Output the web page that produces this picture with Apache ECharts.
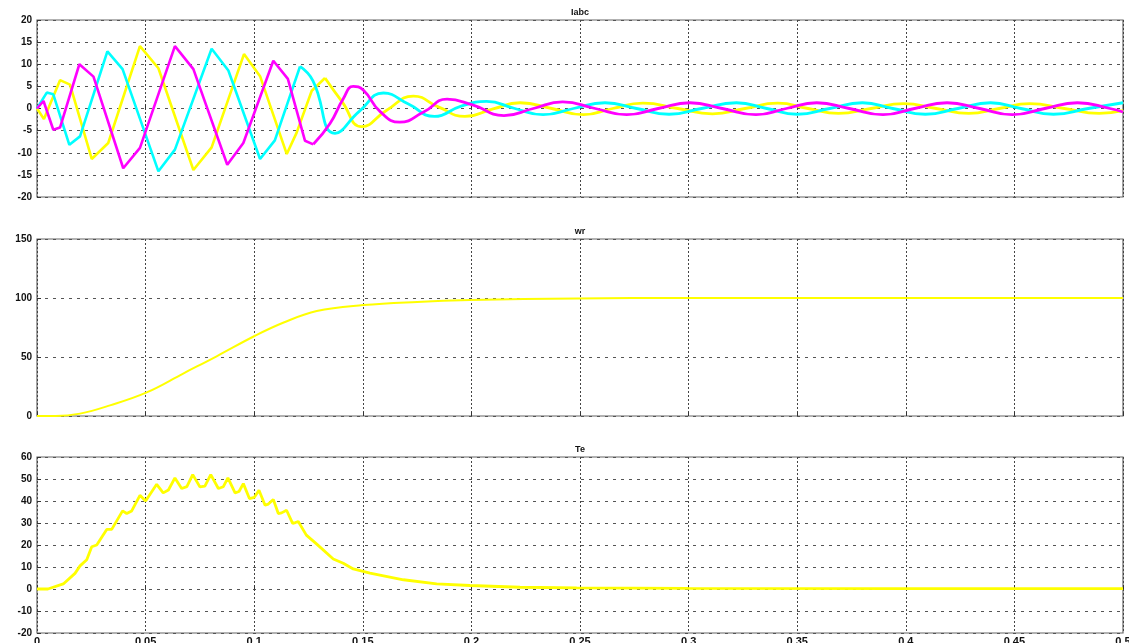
<!DOCTYPE html>
<html>
<head>
<meta charset="utf-8" />
<title>Iabc / wr / Te</title>
<script src="https://cdn.jsdelivr.net/npm/echarts/dist/echarts.min.js"></script>
<style>
  html, body { margin: 0; padding: 0; background: #fff; }
  #chart { width: 1129px; height: 643px; }
</style>
</head>
<body>
<div id="chart"></div>
<script>
// 时间轴刻度
const xTicks = [0, 0.05, 0.1, 0.15, 0.2, 0.25, 0.3, 0.35, 0.4, 0.45, 0.5];
const panelTitles = ["Iabc", "wr", "Te"];

// Iabc — 前段为折线（采样较粗），后段为平滑正弦
const iaLinear = [[0,0],[0.0032,-2.4],[0.0106,6.4],[0.0152,5.4],[0.0252,-11.4],[0.0328,-7.8],[0.0474,14.1],[0.0559,9.1],[0.072,-13.9],[0.0804,-8.8],[0.0953,12.3],[0.1027,7.3],[0.115,-10.3],[0.1195,-5.5],[0.1265,4.0],[0.1326,6.9]];
const iaSmooth = [[0.1326,6.9],[0.1405,1.5],[0.1495,-4.1],[0.161,-0.4],[0.1733,2.8],[0.185,0.3],[0.197,-1.8],[0.21,-0.1],[0.2224,1.3],[0.237,0],[0.2515,-1.4],[0.265,0],[0.279,1.2],[0.295,0],[0.311,-1.2],[0.326,0],[0.341,1.2],[0.355,0],[0.369,-1.1],[0.384,0],[0.399,1.1],[0.414,0],[0.429,-1.1],[0.443,0],[0.457,1.1],[0.473,0],[0.489,-1.1],[0.5,-0.5]];

const ibLinear = [[0,0],[0.0045,3.6],[0.0075,3.2],[0.0149,-8.2],[0.0198,-6.3],[0.0324,12.9],[0.0394,8.9],[0.0559,-14.2],[0.0635,-9.3],[0.0804,13.5],[0.0881,8.6],[0.1027,-11.4],[0.1095,-7.2],[0.1211,9.5]];
const ibSmooth = [[0.1211,9.5],[0.127,6.3],[0.1372,-5.6],[0.1485,-0.6],[0.1595,3.5],[0.171,1.0],[0.183,-1.8],[0.195,0.5],[0.207,1.6],[0.22,0],[0.233,-1.4],[0.247,0],[0.2615,1.3],[0.276,0],[0.291,-1.3],[0.306,0],[0.322,1.3],[0.336,0],[0.35,-1.3],[0.365,0],[0.38,1.3],[0.394,0],[0.409,-1.3],[0.424,0],[0.439,1.3],[0.453,0],[0.468,-1.3],[0.484,0],[0.5,1.3]];

const icLinear = [[0,0],[0.003,1.7],[0.0075,-4.8],[0.0106,-4.3],[0.0195,10.0],[0.026,7.2],[0.0397,-13.5],[0.0474,-8.9],[0.0635,14.1],[0.072,8.9],[0.0876,-12.7],[0.095,-7.8],[0.1088,10.8],[0.1155,6.7],[0.1234,-7.3],[0.1272,-8.1]];
const icSmooth = [[0.1272,-8.1],[0.1349,-3.4],[0.141,2.2],[0.1456,5.0],[0.1502,4.2],[0.158,-0.7],[0.167,-3.1],[0.178,-0.8],[0.1888,2.1],[0.2005,0.8],[0.215,-1.6],[0.2285,0],[0.242,1.5],[0.257,0],[0.2715,-1.4],[0.286,0],[0.3006,1.3],[0.3155,0],[0.331,-1.4],[0.345,0],[0.359,1.3],[0.374,0],[0.3895,-1.4],[0.404,0],[0.419,1.3],[0.434,0],[0.449,-1.4],[0.464,0],[0.479,1.3],[0.494,0],[0.5,-0.8]];

// wr 转速
const wrData = [[0,0],[0.0085,0],[0.0198,2],[0.0336,9],[0.0505,20],[0.0673,36],[0.0827,50.6],[0.1004,68],[0.1133,79],[0.1288,89],[0.1502,94],[0.175,96.7],[0.1993,98.2],[0.2486,99.6],[0.299,100],[0.4,100],[0.5,100]];

// Te 电磁转矩
const teData = [[0,0],[0.005,0],[0.0121,2.3],[0.0175,7.1],[0.0198,10.5],[0.0205,11.4],[0.0229,13.3],[0.0252,19.2],[0.0275,20],[0.0321,27.1],[0.0344,27.1],[0.0394,35.5],[0.0413,34.3],[0.0436,35.5],[0.0474,42.6],[0.05,40],[0.0551,47.6],[0.0581,43.7],[0.0605,45],[0.0635,50.5],[0.0666,45.7],[0.069,46.5],[0.0717,52],[0.075,46.4],[0.0773,46.8],[0.08,52],[0.0835,45.7],[0.0858,46.5],[0.0879,50.5],[0.0912,43.7],[0.093,44.3],[0.095,47.9],[0.0978,41.1],[0.1,41.6],[0.1022,44.9],[0.105,38.1],[0.1065,38.6],[0.1088,40.7],[0.1111,34.3],[0.1126,34.6],[0.1149,35.8],[0.1177,29.8],[0.119,30.2],[0.1203,30.7],[0.124,24.5],[0.1288,20.4],[0.1364,13.6],[0.141,11.7],[0.1456,9.1],[0.1533,7.2],[0.1687,4.2],[0.184,2.3],[0.1993,1.6],[0.2224,0.8],[0.2485,0.5],[0.3,0.3],[0.4,0.2],[0.5,0.2]];

const YELLOW = "#ffff00";
const CYAN = "#00ffff";
const MAGENTA = "#ff00ff";

const grids = [
  { left: 37, width: 1086, top: 20, height: 177 },
  { left: 37, width: 1086, top: 239, height: 177 },
  { left: 37, width: 1086, top: 457, height: 176 },
];
const yRanges = [
  { min: -20, max: 20, interval: 5 },
  { min: 0, max: 150, interval: 50 },
  { min: -20, max: 60, interval: 10 },
];

const makeX = (i) => ({
  type: "value",
  gridIndex: i,
  min: xTicks[0],
  max: xTicks[xTicks.length - 1],
  interval: 0.05,
  axisLine: { show: false },
  axisTick: { show: true, inside: true, length: 4, lineStyle: { color: "#333" } },
  axisLabel: {
    show: i === 2,
    margin: 3,
    fontSize: 11,
    fontWeight: "bold",
    color: "#111",
    fontFamily: "Liberation Sans, Arial, sans-serif",
    formatter: (v) => String(+v.toFixed(2)),
  },
  splitLine: { show: true, lineStyle: { type: [2, 2], color: "#444", width: 1 } },
});

const makeY = (i) => ({
  type: "value",
  gridIndex: i,
  min: yRanges[i].min,
  max: yRanges[i].max,
  interval: yRanges[i].interval,
  axisLine: { show: false },
  axisTick: { show: true, inside: true, length: 4, lineStyle: { color: "#333" } },
  axisLabel: {
    margin: 5,
    fontSize: 10,
    fontWeight: "bold",
    color: "#111",
    fontFamily: "Liberation Sans, Arial, sans-serif",
  },
  splitLine: { show: true, lineStyle: { type: [3, 5], color: "#555", width: 1 } },
});

const line = (data, color, axis, smooth, width) => ({
  type: "line",
  xAxisIndex: axis,
  yAxisIndex: axis,
  data: data,
  smooth: smooth,
  showSymbol: false,
  symbol: "none",
  lineStyle: { color: color, width: width },
  z: 3,
});

const option = {
  animation: false,
  backgroundColor: "#fff",
  title: panelTitles.map((t, i) => ({
    text: t,
    left: 580,
    textAlign: "center",
    top: grids[i].top - 12,
    padding: 0,
    textStyle: { fontSize: 9, fontWeight: "bold", color: "#111", fontFamily: "Liberation Sans, Arial, sans-serif" },
  })),
  grid: grids.map((g) => ({
    ...g,
    show: true,
    outerBoundsMode: "none",
    containLabel: false,
    borderColor: "#666",
    borderWidth: 1.2,
    backgroundColor: "transparent",
  })),
  xAxis: [0, 1, 2].map(makeX),
  yAxis: [0, 1, 2].map(makeY),
  series: [
    line(iaLinear, YELLOW, 0, false, 2.6),
    line(iaSmooth, YELLOW, 0, 0.5, 2.8),
    line(ibLinear, CYAN, 0, false, 2.6),
    line(ibSmooth, CYAN, 0, 0.5, 2.8),
    line(icLinear, MAGENTA, 0, false, 2.6),
    line(icSmooth, MAGENTA, 0, 0.5, 2.8),
    line(wrData, YELLOW, 1, 0.4, 2),
    line(teData, YELLOW, 2, false, 2.8),
  ],
};

const myChart = echarts.init(document.getElementById("chart"));
myChart.setOption(option);
</script>
</body>
</html>
